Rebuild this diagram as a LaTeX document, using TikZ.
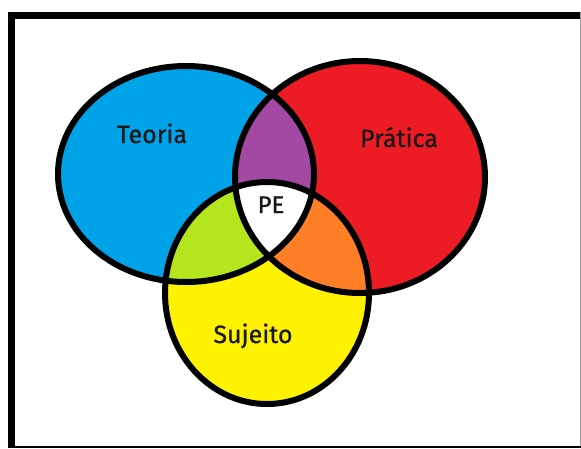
\documentclass[tikz,border=0pt]{standalone}
\usepackage{fontspec}
\setmainfont{Fira Sans}
\newfontfamily\lblfont{Fira Sans}[FakeBold=0.8]
\definecolor{vblue}{RGB}{0,162,232}
\definecolor{vred}{RGB}{237,28,36}
\definecolor{vyellow}{RGB}{255,242,0}
\definecolor{vpurple}{RGB}{163,73,164}
\definecolor{vgreen}{RGB}{181,230,29}
\definecolor{vorange}{RGB}{255,127,39}
\begin{document}
\begin{tikzpicture}[x=1pt,y=-1pt,
  outline/.style={draw=black,line width=6pt},
  lbl/.style={font=\lblfont\fontsize{25}{27}\selectfont,text=black!90,anchor=base,inner sep=0pt},
  lblpe/.style={lbl,font=\lblfont\fontsize{24}{26}\selectfont}]
\useasboundingbox (0,0) rectangle (581,448);
\fill[white] (0,0) rectangle (581,448);
% frame
\fill[black] (8,12) rectangle (581,19);
\fill[black] (8,12) rectangle (15,448);
\fill[black!40] (579.5,12) rectangle (581,448);
\fill[black] (8,446) rectangle (581,448);
% fills
\fill[vblue] (186,174) ellipse [x radius=128pt, y radius=108pt];
\fill[vred] (360,177) ellipse [x radius=125pt, y radius=116pt];
\fill[vyellow] (267,293) ellipse [x radius=102pt, y radius=111pt];
\begin{scope}
  \clip (186,174) ellipse [x radius=128pt, y radius=108pt];
  \fill[vpurple] (360,177) ellipse [x radius=125pt, y radius=116pt];
  \fill[vgreen] (267,293) ellipse [x radius=102pt, y radius=111pt];
\end{scope}
\begin{scope}
  \clip (360,177) ellipse [x radius=125pt, y radius=116pt];
  \fill[vorange] (267,293) ellipse [x radius=102pt, y radius=111pt];
  \clip (267,293) ellipse [x radius=102pt, y radius=111pt];
  \fill[white] (186,174) ellipse [x radius=128pt, y radius=108pt];
\end{scope}
% outlines
\draw[outline] (186,174) ellipse [x radius=128pt, y radius=108pt];
\draw[outline] (360,177) ellipse [x radius=125pt, y radius=116pt];
\draw[outline] (267,293) ellipse [x radius=102pt, y radius=111pt];
% labels
\node[lbl] (teoria) at (152,143) {Teoria};
\node[lbl] (pratica) at (399,147) {Prática};
\node[lbl] (sujeito) at (253,343) {Sujeito};
\node[lblpe] (pe) at (271,213) {PE};
\end{tikzpicture}
\end{document}
